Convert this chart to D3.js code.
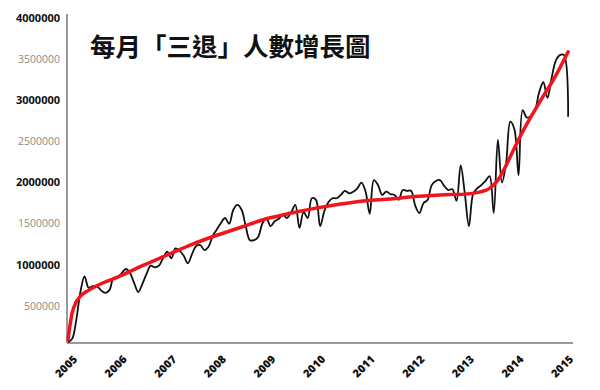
<!DOCTYPE html>
<html>
<head>
<meta charset="utf-8">
<script src="https://cdn.jsdelivr.net/npm/d3@7"></script>
<style>
html,body{margin:0;padding:0;background:#fff;}
svg{display:block;}
</style>
</head>
<body>
<svg id="chart" width="600" height="390"></svg>
<script>
const title = "每月「三退」人數增長圖";
const years = ["2005","2006","2007","2008","2009","2010","2011","2012","2013","2014","2015"];
const yTicks = [500000,1000000,1500000,2000000,2500000,3000000,3500000,4000000];
// monthly values, Jan 2005 .. Feb 2015
const monthly = [
  10000,50000,280000,620000,810000,670000,690000,690000,640000,610000,640000,790000,
  800000,850000,900000,850000,730000,620000,720000,840000,940000,920000,940000,1030000,
  1110000,1030000,1150000,1120000,1060000,970000,1080000,1180000,1190000,1130000,1170000,1300000,
  1380000,1460000,1520000,1450000,1620000,1680000,1620000,1420000,1250000,1250000,1290000,1450000,
  1520000,1420000,1480000,1510000,1560000,1520000,1590000,1680000,1400000,1590000,1520000,1760000,
  1740000,1420000,1600000,1710000,1760000,1760000,1800000,1850000,1820000,1840000,1880000,1950000,
  1840000,1570000,1980000,1920000,1800000,1840000,1810000,1800000,1740000,1860000,1850000,1850000,
  1670000,1580000,1700000,1740000,1920000,1970000,1980000,1910000,1860000,1870000,1730000,2160000,
  1820000,1420000,1810000,1880000,1920000,1970000,2030000,1580000,2470000,1950000,2190000,2690000,
  2600000,2040000,2830000,2740000,2760000,2830000,3050000,3170000,2980000,3220000,3430000,3500000,
  3500000,2750000
];
// trend line: [month index, value]
const trendMonths = [0,1,2,3,5,8,12,18,24,30,36,42,48,54,60,66,72,78,84,90,96,100,102,104,106,108,110,114,118,121];
const trendValues = [40000,365000,500000,570000,640000,720000,800000,940000,1070000,1200000,1310000,1410000,1510000,1580000,1640000,1690000,1730000,1750000,1780000,1800000,1810000,1840000,1880000,1980000,2160000,2370000,2570000,2920000,3250000,3540000];

const svg = d3.select("#chart");
const x = d3.scaleLinear().domain([0,120]).range([68,564]);
const y = d3.scaleLinear().domain([0,4000000]).range([343,14]);

// axes lines
svg.append("line").attr("x1",67).attr("x2",67).attr("y1",y(4000000)).attr("y2",y(0))
  .attr("stroke","#9a9a9a").attr("stroke-width",2);
svg.append("line").attr("x1",67).attr("x2",573).attr("y1",y(0)).attr("y2",y(0))
  .attr("stroke","#9a9a9a").attr("stroke-width",2);

// y tick labels
svg.append("g").selectAll("text").data(yTicks).join("text")
  .attr("x",60).attr("y",d=>y(d)+5)
  .attr("text-anchor","end").attr("dominant-baseline","middle")
  .attr("font-family","'Open Sans', sans-serif")
  .attr("font-size",d=> d%1000000===0 ? 11 : 10.5)
  .attr("font-weight",d=> d%1000000===0 ? 700 : 400)
  .attr("fill",d=> d%1000000===0 ? "#111" : "#8a8a8a")
  .text(d=>d);

// x tick labels
svg.append("g").selectAll("text").data(years).join("text")
  .attr("transform",(d,i)=>`translate(${x(i*12)+10},${360}) rotate(-45)`)
  .attr("text-anchor","end")
  .attr("font-family","'Open Sans', sans-serif")
  .attr("font-size",11).attr("font-weight",800).attr("fill","#111")
  .text(d=>d);

// black monthly line
const line = d3.line().x((d,i)=>x(i)).y(d=>y(d)).curve(d3.curveCatmullRom.alpha(0.5));
svg.append("path").datum(monthly).attr("d",line)
  .attr("fill","none").attr("stroke","#111").attr("stroke-width",1.8).attr("stroke-linejoin","round");

// red trend
const trend = trendMonths.map((m,i)=>[m,trendValues[i]]);
const tline = d3.line().x(d=>x(d[0])).y(d=>y(d[1])).curve(d3.curveMonotoneX);
svg.append("path").datum(trend).attr("d",tline)
  .attr("fill","none").attr("stroke","#f0141e").attr("stroke-width",3.5).attr("stroke-linecap","round");

// title
svg.append("text").attr("x",90).attr("y",56)
  .attr("font-family","'Noto Sans CJK TC', sans-serif")
  .attr("font-size",25.5).attr("font-weight",700).attr("fill","#111")
  .text(title);
</script>
</body>
</html>
